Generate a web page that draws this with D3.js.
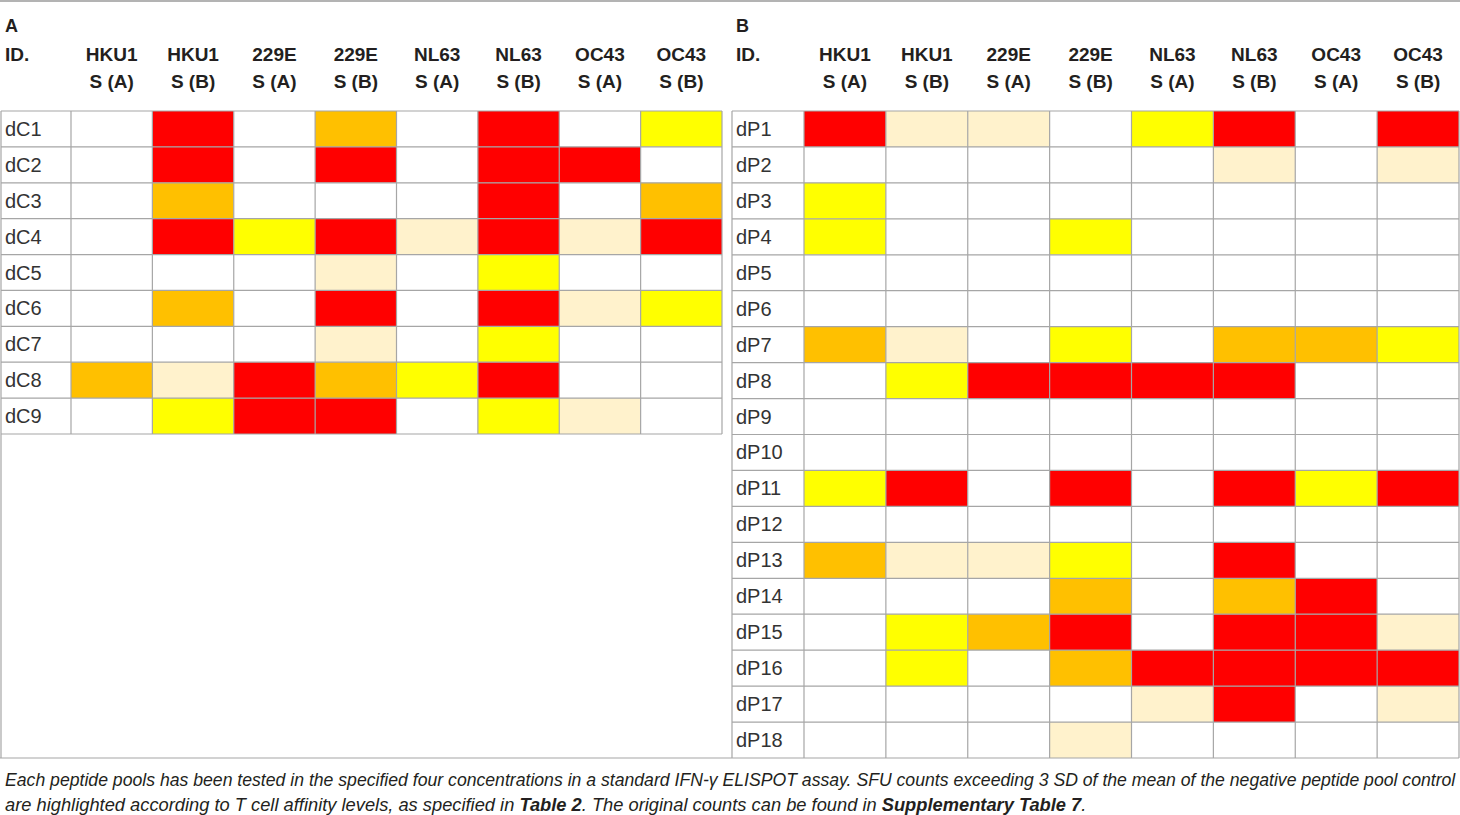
<!DOCTYPE html>
<html><head><meta charset="utf-8">
<script src="https://cdn.jsdelivr.net/npm/d3@7"></script>
<style>
html,body{margin:0;padding:0;background:#fff;}
svg{display:block;}
</style>
</head><body>
<svg id="chart" width="1460" height="815"></svg>
<script>
const columnsTop = ["HKU1","HKU1","229E","229E","NL63","NL63","OC43","OC43"];
const columnsBottom = ["S (A)","S (B)","S (A)","S (B)","S (A)","S (B)","S (A)","S (B)"];
const rowsA = ["dC1","dC2","dC3","dC4","dC5","dC6","dC7","dC8","dC9"];
const rowsB = ["dP1","dP2","dP3","dP4","dP5","dP6","dP7","dP8","dP9","dP10","dP11","dP12","dP13","dP14","dP15","dP16","dP17","dP18"];
// levels: 0 none, 1 pale, 2 yellow, 3 orange, 4 red
const valuesA = [
  [0,4,0,3,0,4,0,2],
  [0,4,0,4,0,4,4,0],
  [0,3,0,0,0,4,0,3],
  [0,4,2,4,1,4,1,4],
  [0,0,0,1,0,2,0,0],
  [0,3,0,4,0,4,1,2],
  [0,0,0,1,0,2,0,0],
  [3,1,4,3,2,4,0,0],
  [0,2,4,4,0,2,1,0]
];
const valuesB = [
  [4,1,1,0,2,4,0,4],
  [0,0,0,0,0,1,0,1],
  [2,0,0,0,0,0,0,0],
  [2,0,0,2,0,0,0,0],
  [0,0,0,0,0,0,0,0],
  [0,0,0,0,0,0,0,0],
  [3,1,0,2,0,3,3,2],
  [0,2,4,4,4,4,0,0],
  [0,0,0,0,0,0,0,0],
  [0,0,0,0,0,0,0,0],
  [2,4,0,4,0,4,2,4],
  [0,0,0,0,0,0,0,0],
  [3,1,1,2,0,4,0,0],
  [0,0,0,3,0,3,4,0],
  [0,2,3,4,0,4,4,1],
  [0,2,0,3,4,4,4,4],
  [0,0,0,0,1,4,0,1],
  [0,0,0,1,0,0,0,0]
];
const levels = [0,1,2,3,4];
const levelColors = ["#ffffff","#fff2cc","#ffff00","#ffc000","#ff0000"];
const captionLine1 = [
  {t:"Each peptide pools has been tested in the specified four concentrations in a standard IFN-\u03b3 ELISPOT assay. SFU counts exceeding 3 SD of the mean of the negative peptide pool control", b:false}
];
const captionLine2 = [
  {t:"are highlighted according to T cell affinity levels, as specified in ", b:false},
  {t:"Table 2", b:true},
  {t:". The original counts can be found in ", b:false},
  {t:"Supplementary Table 7", b:true},
  {t:".", b:false}
];

const svg = d3.select("#chart");
const color = d3.scaleOrdinal().domain(levels).range(levelColors);
const gridColor = "#a6a6a6";
const font = "'Liberation Sans', Arial, Helvetica, sans-serif";

// top rule
svg.append("line").attr("x1",0).attr("x2",1460).attr("y1",1).attr("y2",1)
  .attr("stroke","#9a9a9a").attr("stroke-width",1.5);

function panel(cfg){
  const g = svg.append("g");
  const x = d3.scaleBand().domain(d3.range(columnsTop.length)).range([cfg.x0, cfg.x1]);
  const y = d3.scaleBand().domain(cfg.rows).range([cfg.y0, cfg.y1]);

  g.append("text").attr("x", cfg.idX0 + 4).attr("y", 32)
    .attr("font-family", font).attr("font-weight","bold").attr("font-size",18).attr("fill","#231f20")
    .text(cfg.letter);
  g.append("text").attr("x", cfg.idX0 + 4).attr("y", 61)
    .attr("font-family", font).attr("font-weight","bold").attr("font-size",19).attr("fill","#231f20")
    .text("ID.");
  const hdr = g.selectAll("text.hdr").data(d3.range(columnsTop.length)).join("text")
    .attr("class","hdr")
    .attr("x", i => x(i) + x.bandwidth()/2)
    .attr("text-anchor","middle")
    .attr("font-family", font).attr("font-weight","bold").attr("font-size",19).attr("fill","#231f20");
  hdr.append("tspan").attr("x", i => x(i) + x.bandwidth()/2).attr("y",61).text(i => columnsTop[i]);
  hdr.append("tspan").attr("x", i => x(i) + x.bandwidth()/2).attr("y",88).text(i => columnsBottom[i]);

  const cells = [];
  cfg.values.forEach((row, r) => row.forEach((v, c) => cells.push({r: cfg.rows[r], c, v})));
  g.selectAll("rect.cell").data(cells).join("rect")
    .attr("class","cell")
    .attr("x", d => x(d.c)).attr("y", d => y(d.r))
    .attr("width", x.bandwidth()).attr("height", y.bandwidth())
    .attr("fill", d => color(d.v));

  g.selectAll("rect.id").data(cfg.rows).join("rect")
    .attr("class","id")
    .attr("x", cfg.idX0).attr("y", d => y(d))
    .attr("width", cfg.x0 - cfg.idX0).attr("height", y.bandwidth())
    .attr("fill","#fff");

  const vx = [cfg.idX0, ...d3.range(columnsTop.length).map(i => x(i)), cfg.x1];
  g.selectAll("line.v").data(vx).join("line")
    .attr("x1", d => d).attr("x2", d => d).attr("y1", cfg.y0).attr("y2", cfg.y1)
    .attr("stroke", gridColor).attr("stroke-width",1.2);
  const hy = [...cfg.rows.map(r => y(r)), cfg.y1];
  g.selectAll("line.h").data(hy).join("line")
    .attr("x1", cfg.idX0).attr("x2", cfg.x1).attr("y1", d => d).attr("y2", d => d)
    .attr("stroke", gridColor).attr("stroke-width",1.2);

  g.selectAll("text.row").data(cfg.rows).join("text")
    .attr("class","row")
    .attr("x", cfg.idX0 + 4)
    .attr("y", d => y(d) + y.bandwidth()/2 + 7)
    .attr("font-family", font).attr("font-size",20).attr("fill","#333")
    .text(d => d);
  return g;
}

panel({letter:"A", rows: rowsA, values: valuesA, idX0: 1, x0: 71, x1: 722, y0: 111, y1: 434});
panel({letter:"B", rows: rowsB, values: valuesB, idX0: 732, x0: 804, x1: 1459, y0: 111, y1: 758});

svg.append("line").attr("x1",1).attr("x2",1).attr("y1",434).attr("y2",758)
  .attr("stroke", gridColor).attr("stroke-width",1.2);
svg.append("line").attr("x1",0).attr("x2",732).attr("y1",758).attr("y2",758)
  .attr("stroke", gridColor).attr("stroke-width",1.2);

// caption lines: condensed to the target width by horizontal scaling
function captionLine(parts, baseline, targetWidth){
  const g = svg.append("g");
  const t = g.append("text").attr("x",0).attr("y",0)
    .attr("font-family", font).attr("font-style","italic").attr("font-size",18).attr("fill","#231f20");
  t.selectAll("tspan").data(parts).join("tspan")
    .attr("font-weight", d => d.b ? "bold" : "normal")
    .text(d => d.t);
  const w = t.node().getComputedTextLength();
  const sx = targetWidth / w;
  g.attr("transform", `translate(5,${baseline}) scale(${sx},1)`);
}
captionLine(captionLine1, 786, 1451);
captionLine(captionLine2, 811, 1082);
</script>
</body></html>
